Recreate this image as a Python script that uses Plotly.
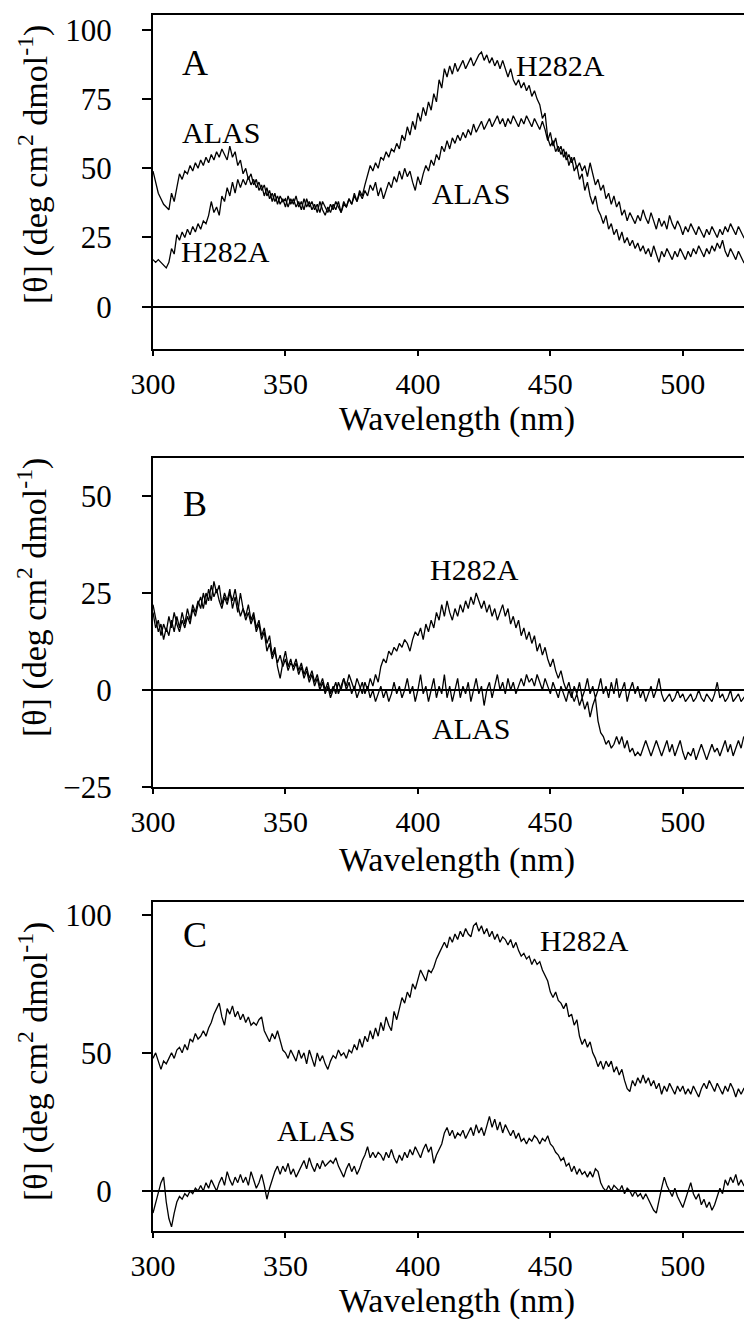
import plotly.graph_objects as go

# Wavelength grid (nm), 1 nm steps as in the spectra
wl = list(range(300, 525))

# ---------------- Panel A ----------------
a_alas = [49,45,41,39,37,36,35,41,38,43,48,46,49,48,51,49,52,50,53,51,
          54,52,55,53,56,54,57,55,53,58,54,56,51,53,48,50,46,48,44,46,
          42,44,40,43,39,41,38,40,37,39,36,40,37,39,36,38,35,39,36,38,
          35,37,34,38,35,33,36,34,37,35,38,34,37,36,39,37,40,38,41,39,
          42,40,44,42,45,40,43,39,42,45,43,47,45,49,46,50,47,49,45,42,
          47,44,48,51,49,53,51,55,53,58,56,60,57,61,59,62,60,63,61,64,
          62,66,63,65,67,64,66,68,65,67,69,66,68,65,68,66,69,67,65,68,
          66,69,67,65,68,66,64,67,64,60,63,58,61,56,58,54,56,51,54,49,
          51,46,48,42,45,40,37,40,35,33,30,33,28,30,26,28,24,27,23,25,
          22,24,21,23,20,22,19,21,18,22,19,16,20,18,21,19,17,20,18,21,
          19,17,20,18,21,19,22,20,18,21,19,22,20,23,21,24,20,18,21,19,
          17,20,18,16,17]
a_h282a = [17,16,17,16,15,14,16,21,19,26,24,27,25,28,26,29,27,30,28,31,
           30,33,38,34,36,33,40,38,43,40,45,41,46,43,46,44,47,44,46,43,
           45,42,44,40,42,38,41,37,40,38,39,36,39,37,40,36,38,35,39,36,
           38,35,37,34,38,36,34,37,35,38,36,34,38,36,39,37,41,38,42,40,
           44,48,51,49,52,50,54,53,56,54,57,56,59,57,62,60,65,62,67,64,
           70,67,72,69,74,71,77,74,82,79,86,83,87,84,88,85,87,89,86,88,
           90,87,89,91,92,89,91,88,90,87,89,86,89,86,83,86,82,80,82,79,
           81,78,80,76,78,75,73,68,70,61,58,60,56,58,55,57,53,55,52,54,
           50,52,49,51,47,52,48,44,46,42,44,39,41,37,40,36,38,33,35,31,
           34,32,30,33,31,35,32,30,34,31,28,32,29,31,28,33,30,28,31,29,
           26,29,27,30,28,26,29,27,25,28,26,29,27,25,28,26,29,27,30,28,
           26,29,27,25,26]

# ---------------- Panel B ----------------
b_alas = [22,18,15,17,13,16,14,18,15,19,16,20,17,21,18,22,20,23,21,25,
          22,26,23,28,25,27,22,25,23,26,21,24,20,25,21,19,22,18,20,16,
          18,14,16,12,14,9,11,6,3,7,10,6,8,5,7,4,6,3,5,2,
          4,1,3,0,2,-1,1,-2,0,2,-1,1,3,0,2,-1,1,-2,0,2,
          -1,1,-2,0,-3,-1,1,-2,0,-3,-1,2,-1,1,-2,0,3,-1,1,-3,
          0,4,-1,1,-3,0,3,-2,1,-1,4,-2,1,-3,0,3,-2,1,-1,2,
          -3,0,3,-1,1,-4,0,2,-2,1,4,0,2,-1,3,0,2,-1,1,3,
          1,4,2,3,1,4,2,0,3,1,-1,2,0,-2,1,-1,-3,0,-2,1,
          -1,2,-2,0,3,-1,1,-2,0,3,-1,1,-2,2,-1,3,-2,0,2,-3,
          0,2,-1,1,-2,0,-3,-1,1,-2,0,3,-1,-3,-2,-1,-3,-2,0,-2,
          -1,-3,-2,-1,-3,-2,0,-2,-3,-1,-2,-3,-1,2,-2,-1,-3,-2,0,-3,
          -2,-1,-3,-2,-1]
b_h282a = [20,16,18,14,17,15,19,16,20,17,15,18,16,19,17,21,19,22,24,21,
           25,23,27,24,26,23,21,24,22,25,23,26,22,19,21,18,20,17,19,15,
           17,13,15,10,12,8,10,7,9,6,8,5,7,6,8,5,7,4,6,3,
           5,2,4,1,3,0,2,-1,1,-1,2,0,3,1,4,2,0,3,1,-1,
           2,0,3,1,4,2,6,8,7,10,9,11,10,12,11,13,12,10,13,15,
           14,16,13,17,15,18,16,20,18,22,19,23,20,18,21,19,22,20,23,21,
           24,22,25,23,21,23,20,22,19,21,18,20,22,19,21,17,19,16,18,14,
           16,13,15,12,14,10,12,9,11,8,6,8,5,3,5,2,0,2,-1,-3,
           -1,-4,-2,-5,-3,-7,-4,-2,-8,-11,-12,-14,-13,-15,-14,-12,-14,-12,-15,-13,
           -16,-15,-17,-16,-17,-15,-13,-15,-17,-15,-13,-15,-17,-15,-13,-16,-14,-17,-15,-13,
           -16,-18,-16,-17,-15,-18,-16,-14,-16,-18,-16,-14,-16,-15,-17,-15,-13,-16,-14,-17,
           -15,-13,-15,-12,-13]

# ---------------- Panel C ----------------
c_h282a = [48,50,47,44,47,46,48,50,48,51,52,50,53,51,55,54,57,55,56,58,
           56,59,61,64,66,68,63,60,66,64,67,63,65,62,64,61,63,60,61,60,
           62,63,58,56,54,57,55,58,54,51,50,48,51,49,47,51,48,50,46,51,
           48,45,50,47,49,46,44,47,49,48,51,49,50,48,51,50,53,51,55,52,
           56,54,58,55,59,56,61,58,63,60,58,65,62,66,70,68,72,70,75,73,
           77,80,78,76,80,79,81,84,86,88,90,88,92,90,93,91,94,92,95,93,
           92,96,97,94,96,93,95,92,94,91,93,90,92,91,89,91,88,90,87,85,
           86,84,85,82,84,82,83,80,78,76,72,70,72,69,68,66,68,63,64,60,
           62,56,53,55,52,54,50,48,45,47,44,47,45,47,43,45,42,44,40,37,
           36,40,38,41,39,42,39,41,38,40,37,39,35,38,36,39,37,35,38,36,
           38,35,37,35,38,36,34,37,39,37,40,38,36,39,37,35,38,36,39,37,
           34,37,35,37,36]
c_alas = [-8,-4,-1,3,5,-4,-10,-13,-8,-4,-2,-3,-1,-2,0,-1,1,0,2,0,
          3,1,4,2,0,3,5,2,7,4,2,5,3,6,3,5,2,7,4,1,
          3,6,2,-3,1,4,7,9,6,9,7,10,6,8,5,7,9,11,8,12,
          9,7,10,8,11,9,10,11,10,12,9,7,5,8,10,7,9,6,8,11,
          13,16,12,14,12,14,13,11,14,12,15,12,10,13,11,14,12,15,13,16,
          14,12,15,17,14,16,10,13,15,17,21,23,20,22,19,21,20,22,19,21,
          23,20,24,21,23,20,24,27,23,26,22,25,21,24,22,20,22,19,21,18,
          19,17,19,18,20,19,17,19,18,20,17,16,14,13,11,12,9,10,7,9,
          6,8,6,7,5,7,5,8,7,3,1,0,2,0,2,1,0,2,-1,1,
          0,-2,0,-2,-1,-3,-1,-3,-5,-7,-8,-3,1,5,2,0,-2,1,-2,-4,
          -6,-3,0,3,-1,-3,-1,-5,-3,-6,-4,-7,-5,-2,1,-1,4,2,5,3,
          6,2,4,2,3]

# tick values per panel
x_ticks = [300, 350, 400, 450, 500]
ya_ticks = [0, 25, 50, 75, 100]
yb_ticks = [-25, 0, 25, 50]
yc_ticks = [0, 50, 100]

W, H = 744, 1326
FONT = "Liberation Serif, Times New Roman, serif"
X_LEFT = 153 / W


def ydom(top_px, bot_px):
    return [1 - bot_px / H, 1 - top_px / H]


fig = go.Figure()
line = dict(color="black", width=1.3)
series = [
    (a_alas, "x", "y"), (a_h282a, "x", "y"),
    (b_alas, "x2", "y2"), (b_h282a, "x2", "y2"),
    (c_alas, "x3", "y3"), (c_h282a, "x3", "y3"),
]
for ys, xa, ya in series:
    fig.add_trace(go.Scatter(x=wl, y=ys, mode="lines", line=line,
                             xaxis=xa, yaxis=ya, showlegend=False,
                             hoverinfo="skip"))

xcommon = dict(range=[300, 523.1], tickvals=x_ticks, ticks="outside",
               ticklen=5, tickwidth=2, tickcolor="black",
               showline=True, linecolor="black", linewidth=2, mirror=True,
               showgrid=False, zeroline=False, automargin=False,
               ticklabelstandoff=2,
               tickfont=dict(family=FONT, size=30, color="black"),
               domain=[X_LEFT, 1])
ycommon = dict(ticks="outside", ticklen=9, tickwidth=2, tickcolor="black",
               showline=True, linecolor="black", linewidth=2, mirror=False,
               showgrid=False, zeroline=True, zerolinecolor="black",
               zerolinewidth=2, automargin=False, ticklabelstandoff=24,
               tickfont=dict(family=FONT, size=31, color="black"))

fig.update_layout(
    width=W, height=H, margin=dict(l=0, r=0, t=0, b=0),
    paper_bgcolor="white", plot_bgcolor="white", showlegend=False,
    xaxis=dict(xcommon, anchor="y"),
    xaxis2=dict(xcommon, anchor="y2"),
    xaxis3=dict(xcommon, anchor="y3"),
    yaxis=dict(ycommon, anchor="x", range=[-15.3, 105.4], tickvals=ya_ticks,
               domain=ydom(15, 349)),
    yaxis2=dict(ycommon, anchor="x2", range=[-25, 59.8], tickvals=yb_ticks,
                domain=ydom(458, 787)),
    yaxis3=dict(ycommon, anchor="x3", range=[-14.5, 104.6], tickvals=yc_ticks,
                domain=ydom(902, 1231)),
)

ann = []
lab = dict(family=FONT, size=30, color="black")
big = dict(family=FONT, size=36, color="black")
# panel letters and curve labels (data coordinates)
for txt, x, y, xr, yr, f in [
    ("A", 316, 88, "x", "y", big),
    ("ALAS", 325.7, 63, "x", "y", lab),
    ("H282A", 327.5, 20, "x", "y", lab),
    ("H282A", 453.7, 87, "x", "y", lab),
    ("ALAS", 420, 41, "x", "y", lab),
    ("B", 316, 48, "x2", "y2", big),
    ("H282A", 421.4, 31, "x2", "y2", lab),
    ("ALAS", 420, -10, "x2", "y2", lab),
    ("C", 316, 92.5, "x3", "y3", big),
    ("H282A", 462.7, 90.7, "x3", "y3", lab),
    ("ALAS", 361.5, 22, "x3", "y3", lab),
]:
    ann.append(dict(text=txt, x=x, y=y, xref=xr, yref=yr, showarrow=False,
                    font=f, xanchor="center", yanchor="middle"))

# axis titles
for ymid in [419, 860, 1301]:
    ann.append(dict(text="Wavelength (nm)", x=457 / W, y=1 - ymid / H,
                    xref="paper", yref="paper", showarrow=False,
                    font=dict(family=FONT, size=34, color="black"),
                    xanchor="center", yanchor="middle"))
for ymid in [165, 598, 1062]:
    ann.append(dict(text="[θ] (deg cm<sup>2</sup> dmol<sup>-1</sup>)",
                    x=33 / W, y=1 - ymid / H, xref="paper", yref="paper",
                    showarrow=False, textangle=-90,
                    font=dict(family=FONT, size=34, color="black"),
                    xanchor="center", yanchor="middle"))
fig.update_layout(annotations=ann)

fig.write_html("out.html", config={"displayModeBar": False},
               post_script="document.body.style.margin='0px';")
